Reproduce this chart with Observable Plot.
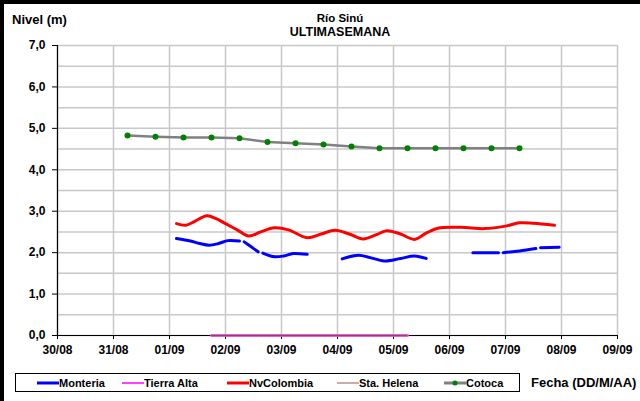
<!DOCTYPE html>
<html><head><meta charset="utf-8">
<script src="https://cdn.jsdelivr.net/npm/d3@7"></script>
<script src="https://cdn.jsdelivr.net/npm/@observablehq/plot@0.6"></script>
<style>
body{margin:0;background:#fff;}
#wrap{position:relative;width:640px;height:401px;overflow:hidden;font-family:"Liberation Sans",Arial,sans-serif;font-weight:bold;color:#000;background:#fff;}
#wrap svg.plot{position:absolute;left:0;top:0;}
.bl{position:absolute;left:0;top:0;width:4px;height:401px;background:#000;}
.bt{position:absolute;left:0;top:0;width:640px;height:4px;background:#000;}
.t{position:absolute;white-space:nowrap;}
#legend{position:absolute;left:15px;top:373px;width:505px;height:19px;border:1px solid #000;box-sizing:border-box;background:#fff;}
#legend .it{position:absolute;top:0;height:17px;display:flex;align-items:center;font-size:11px;}
</style></head><body>
<div id="wrap">
  <div id="chart"></div>
  <div class="bl"></div><div class="bt"></div>
  <div class="t" id="ylab" style="left:12px;top:12px;font-size:13px;">Nivel (m)</div>
  <div class="t" id="title1" style="left:240px;width:200px;top:12px;text-align:center;font-size:11.5px;line-height:12px;"></div>
  <div class="t" id="title2" style="left:240px;width:200px;top:26px;text-align:center;font-size:12.5px;line-height:12px;"></div>
  <div id="legend"></div>
  <div class="t" id="xlab" style="left:531px;top:375px;font-size:13px;">Fecha (DD/M/AA)</div>
</div>
<script>
// ---- data ----
const titleLines = ["Río Sinú", "ULTIMASEMANA"];
const seriesNames = ["Monteria", "Tierra Alta", "NvColombia", "Sta. Helena", "Cotoca"];
const seriesColors = ["#0000ff", "#ff00ff", "#ff0000", "#bc8f8f", "#808080"];
const xTickDays = ["2011-08-30","2011-08-31","2011-09-01","2011-09-02","2011-09-03","2011-09-04","2011-09-05","2011-09-06","2011-09-07","2011-09-08","2011-09-09"];
const yTickValues = [0, 1, 2, 3, 4, 5, 6, 7];

const montTimes = ["2011-09-01 03:00","2011-09-01 09:00","2011-09-01 13:00","2011-09-01 17:00","2011-09-01 21:00","2011-09-02 01:00","2011-09-02 06:00","2011-09-02 07:00","2011-09-02 08:00","2011-09-02 11:00","2011-09-02 14:00","2011-09-02 15:00","2011-09-02 16:00","2011-09-02 21:00","2011-09-03 01:00","2011-09-03 05:00","2011-09-03 11:00","2011-09-03 12:00","2011-09-04 02:00","2011-09-04 09:00","2011-09-04 14:00","2011-09-04 20:00","2011-09-05 03:00","2011-09-05 09:00","2011-09-05 14:00","2011-09-05 15:00","2011-09-06 10:00","2011-09-06 21:00","2011-09-06 22:00","2011-09-06 23:00","2011-09-07 06:00","2011-09-07 13:00","2011-09-07 14:00","2011-09-07 15:00","2011-09-07 23:00"];
const montLevels = [2.34,2.28,2.22,2.18,2.22,2.29,2.28,null,2.26,2.14,2.02,null,1.99,1.90,1.92,1.98,1.96,null,1.85,1.94,1.88,1.80,1.86,1.92,1.86,null,2.00,2.00,null,2.00,2.04,2.10,null,2.12,2.13];

const nvTimes = ["2011-09-01 03:00","2011-09-01 07:00","2011-09-01 11:00","2011-09-01 16:00","2011-09-01 20:00","2011-09-02 00:00","2011-09-02 05:00","2011-09-02 10:00","2011-09-02 15:00","2011-09-02 21:00","2011-09-03 03:00","2011-09-03 11:00","2011-09-03 17:00","2011-09-03 23:00","2011-09-04 05:00","2011-09-04 11:00","2011-09-04 17:00","2011-09-04 21:00","2011-09-05 03:00","2011-09-05 09:00","2011-09-05 14:00","2011-09-05 19:00","2011-09-06 05:00","2011-09-06 15:00","2011-09-07 00:00","2011-09-07 06:00","2011-09-07 12:00","2011-09-07 21:00"];
const nvLevels = [2.70,2.66,2.76,2.89,2.82,2.70,2.55,2.40,2.50,2.60,2.55,2.36,2.45,2.54,2.45,2.33,2.44,2.53,2.45,2.32,2.47,2.59,2.61,2.58,2.64,2.72,2.71,2.66];

const tierraTimes = ["2011-09-01 18:00","2011-09-02 06:00","2011-09-02 18:00","2011-09-03 06:00","2011-09-03 18:00","2011-09-04 06:00","2011-09-04 18:00","2011-09-05 06:00"];
const tierraLevels = [0,0,0,0,0,0,0,0];
const helenaTimes = ["2011-09-01 18:00","2011-09-02 06:00","2011-09-02 18:00","2011-09-03 06:00","2011-09-03 18:00","2011-09-04 06:00","2011-09-04 18:00","2011-09-05 06:00"];
const helenaLevels = [0,0,0,0,0,0,0,0];

const cotocaTimes = ["2011-08-31 06:00","2011-08-31 18:00","2011-09-01 06:00","2011-09-01 18:00","2011-09-02 06:00","2011-09-02 18:00","2011-09-03 06:00","2011-09-03 18:00","2011-09-04 06:00","2011-09-04 18:00","2011-09-05 06:00","2011-09-05 18:00","2011-09-06 06:00","2011-09-06 18:00","2011-09-07 06:00"];
const cotocaLevels = [4.83,4.80,4.78,4.78,4.76,4.67,4.64,4.61,4.56,4.52,4.52,4.52,4.52,4.52,4.52];

// ---- build ----
const pt = d3.utcParse("%Y-%m-%d %H:%M");
const pd = d3.utcParse("%Y-%m-%d");
const rows = (times, levels) => times.map((t, i) => ({t: pt(t), v: levels[i]}));
const mont = rows(montTimes, montLevels);
const nv = rows(nvTimes, nvLevels);
const tierra = rows(tierraTimes, tierraLevels);
const helena = rows(helenaTimes, helenaLevels);
const cotoca = rows(cotocaTimes, cotocaLevels);
const dayTicks = xTickDays.map(pd);
const halfTicks = d3.range(0, 7.01, 0.5);
const fmtY = d => d.toFixed(1).replace(".", ",");

const chart = Plot.plot({
  width: 640, height: 401,
  marginLeft: 57, marginRight: 23, marginTop: 45, marginBottom: 66,
  style: {fontFamily: '"Liberation Sans", Arial, sans-serif', fontSize: "12px", fontWeight: "bold", background: "transparent", color: "#000", overflow: "visible"},
  x: {type: "utc", domain: [dayTicks[0], dayTicks[dayTicks.length - 1]]},
  y: {domain: [0, 7]},
  marks: [
    Plot.gridY(halfTicks, {stroke: "#c8c8c8", strokeOpacity: 1, strokeWidth: 1.5}),
    Plot.gridX(dayTicks, {stroke: "#c8c8c8", strokeOpacity: 1, strokeWidth: 1.5}),
    Plot.axisX(dayTicks, {tickFormat: d3.utcFormat("%d/%m"), tickSize: 4, tickPadding: 6, label: null, stroke: "#000"}),
    Plot.axisY(yTickValues, {tickFormat: fmtY, tickSize: 5, tickPadding: 7, label: null, stroke: "#000"}),
    Plot.ruleX([dayTicks[0]], {stroke: "#000", strokeWidth: 1.2}),
    Plot.ruleY([0], {stroke: "#000", strokeWidth: 1.2}),
    Plot.line(tierra, {x: "t", y: "v", stroke: seriesColors[1], strokeWidth: 2.5}),
    Plot.line(helena, {x: "t", y: "v", stroke: seriesColors[3], strokeWidth: 2.5, strokeOpacity: 0.6}),
    Plot.ruleY([0], {x1: tierra[0].t, x2: tierra[tierra.length - 1].t, stroke: "#000", strokeWidth: 1, strokeOpacity: 0.3}),
    Plot.line(cotoca, {x: "t", y: "v", stroke: seriesColors[4], strokeWidth: 2.5}),
    Plot.dot(cotoca, {x: "t", y: "v", fill: "#008000", r: 3}),
    Plot.line(nv, {x: "t", y: "v", stroke: seriesColors[2], strokeWidth: 3, curve: "catmull-rom"}),
    Plot.line(mont, {x: "t", y: "v", stroke: seriesColors[0], strokeWidth: 3, curve: "catmull-rom"})
  ]
});
document.getElementById("chart").appendChild(chart);

document.getElementById("title1").textContent = titleLines[0];
document.getElementById("title2").textContent = titleLines[1];

// legend
const legendX = [21, 106, 211, 321, 428];
const legend = d3.select("#legend");
seriesNames.forEach((name, i) => {
  const it = legend.append("div").attr("class", "it").style("left", legendX[i] + "px");
  const sw = it.append("svg").attr("width", 22).attr("height", 10);
  const thin = (name === "Tierra Alta" || name === "Sta. Helena");
  sw.append("line").attr("x1", 0).attr("x2", 22).attr("y1", 5).attr("y2", 5)
    .attr("stroke", seriesColors[i]).attr("stroke-width", thin ? 1.5 : 3);
  if (name === "Cotoca") sw.append("circle").attr("cx", 11).attr("cy", 5).attr("r", 2.5).attr("fill", "#008000");
  it.append("span").text(name);
});
</script>
</body></html>
